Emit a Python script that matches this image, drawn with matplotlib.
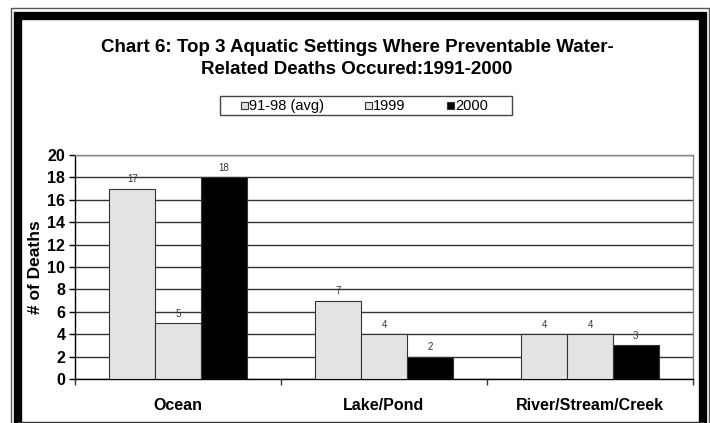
import matplotlib
matplotlib.use("Agg")
import matplotlib.pyplot as plt
from matplotlib.patches import Rectangle
from matplotlib.lines import Line2D
import numpy as np

plt.rcParams['font.family'] = ['Liberation Sans', 'DejaVu Sans']

# Data
categories = ["Ocean", "Lake/Pond", "River/Stream/Creek"]
series_names = ["91-98 (avg)", "1999", "2000"]
avg_91_98 = [17, 7, 4]
deaths_1999 = [5, 4, 4]
deaths_2000 = [18, 2, 3]
y_ticks = [0, 2, 4, 6, 8, 10, 12, 14, 16, 18, 20]

series_values = [avg_91_98, deaths_1999, deaths_2000]
series_colors = ["#E3E3E3", "#E3E3E3", "#000000"]

W, H = 710, 423
fig = plt.figure(figsize=(W / 100, H / 100), dpi=100)
fig.patch.set_facecolor("white")

# Overlay in pixel coordinates for frame, title and legend
ov = fig.add_axes([0, 0, 1, 1], zorder=0)
ov.set_xlim(0, W)
ov.set_ylim(H, 0)
ov.axis("off")
ov.patch.set_visible(False)

# Outer thin border
ov.add_line(Line2D([10.5, 10.5, 708.5, 708.5], [H + 5, 8.5, 8.5, H + 5],
                   color="#555555", lw=1.0))
# Thick black frame
ov.add_line(Line2D([18, 18, 703, 703], [H + 5, 16, 16, H + 5],
                   color="black", lw=6.0, solid_joinstyle="miter"))
ov.add_line(Line2D([18, 703], [421.7, 421.7], color="#333333", lw=1.0))

# Title
ov.text(357, 48, "Chart 6: Top 3 Aquatic Settings Where Preventable Water-",
        ha="center", va="center", fontsize=13.5, fontweight="bold")
ov.text(357, 69, "Related Deaths Occured:1991-2000",
        ha="center", va="center", fontsize=13.5, fontweight="bold")

# Legend: box, swatches and labels
ov.add_patch(Rectangle((220, 96), 292, 19, fill=False, edgecolor="#444444", lw=1.0))
legend_x = [241, 365, 447]
for lx, name, col in zip(legend_x, series_names, series_colors):
    ov.add_patch(Rectangle((lx, 102.5), 6.5, 6.5, facecolor=col,
                           edgecolor="#333333", lw=0.8))
    ov.text(lx + 8, 106, name, ha="left", va="center", fontsize=10.5)

# Main chart
ax = fig.add_axes([75 / W, (H - 379) / H, 618 / W, 224 / H], zorder=1)
ax.set_facecolor("white")

n = len(series_values)
bw = 1 / 4.5
x = np.arange(len(categories))
for i, (vals, col, name) in enumerate(zip(series_values, series_colors, series_names)):
    offs = (i - (n - 1) / 2) * bw
    ax.bar(x + offs, vals, width=bw, color=col, edgecolor="#333333",
           linewidth=0.8, label=name, zorder=3)
    for xi, v in zip(x + offs, vals):
        ax.annotate(str(v), (xi, v), xytext=(0, 3), textcoords="offset points",
                    ha="center", va="bottom", fontsize=7, color="#333333", zorder=4)

ax.set_xlim(-0.5, len(categories) - 0.5)
ax.set_ylim(0, 20)
ax.set_yticks(y_ticks)
ax.set_yticklabels([str(t) for t in y_ticks], fontsize=11.5, fontweight="bold")
ax.yaxis.grid(True, color="#333333", lw=1.0, zorder=0)
ax.set_axisbelow(True)

ax.set_xticks(x)
ax.set_xticklabels(categories, fontsize=11.5, fontweight="bold")
ax.tick_params(axis="x", which="major", length=0, pad=14)
ax.set_xticks(np.arange(-0.5, len(categories), 1.0), minor=True)
ax.tick_params(axis="x", which="minor", length=4, width=1, color="#333333", direction="out")
ax.tick_params(axis="y", length=4, width=1, direction="out", pad=3)

ax.set_ylabel("# of Deaths", fontsize=12.5, fontweight="bold", labelpad=3)

for side in ["top", "right"]:
    ax.spines[side].set_color("#888888")
    ax.spines[side].set_linewidth(1.0)
for side in ["left", "bottom"]:
    ax.spines[side].set_color("black")
    ax.spines[side].set_linewidth(1.0)

fig.savefig("out.png", dpi=100)
